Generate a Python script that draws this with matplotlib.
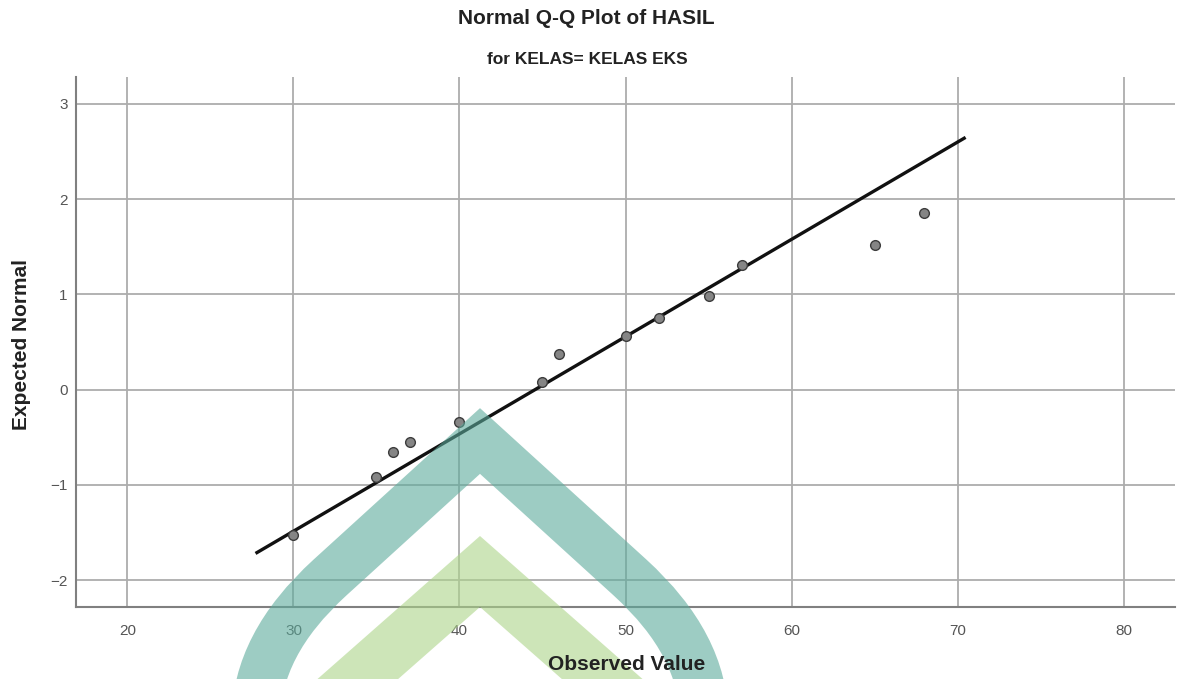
import matplotlib
matplotlib.use("Agg")
import matplotlib.pyplot as plt
import numpy as np
from matplotlib.path import Path
from matplotlib.patches import PathPatch, Polygon

# ---- data ----
observed = [30, 35, 36, 37, 40, 45, 46, 50, 52, 55, 57, 65, 68]
expected = [-1.52, -0.92, -0.65, -0.545, -0.335, 0.08, 0.37, 0.565, 0.755, 0.985, 1.31, 1.52, 1.855]
line_mean = 44.55
line_sd = 9.8
line_x = [27.8, 70.4]
xticks = [20, 30, 40, 50, 60, 70, 80]
yticks = [-2, -1, 0, 1, 2, 3]

title = "Normal Q-Q Plot of HASIL"
subtitle = "for KELAS= KELAS EKS"
xlabel = "Observed Value"
ylabel = "Expected Normal"

plt.rcParams['font.family'] = ['Liberation Sans', 'DejaVu Sans']

W, H = 1190, 679
fig = plt.figure(figsize=(W / 100, H / 100), dpi=100)
ax = fig.add_axes([76 / W, 1 - 607 / H, (1175 - 76) / W, (607 - 77) / H])

ax.set_xlim(16.9, 83.1)
ax.set_ylim(-2.28, 3.28)
ax.set_xticks(xticks)
ax.set_yticks(yticks)
ax.grid(True, color='#adadad', linewidth=1.3)
ax.set_axisbelow(True)
ax.tick_params(axis='x', length=0, labelsize=11, colors='#555555', pad=12)
ax.tick_params(axis='y', length=0, labelsize=11, colors='#555555', pad=6)
for s in ['top', 'right']:
    ax.spines[s].set_visible(False)
for s in ['left', 'bottom']:
    ax.spines[s].set_color('#808080')
    ax.spines[s].set_linewidth(1.5)

lx = np.array(line_x)
ax.plot(lx, (lx - line_mean) / line_sd, color='#111111', linewidth=2.4, zorder=3)
ax.plot(observed, expected, 'o', markersize=7, markerfacecolor='#858585',
        markeredgecolor='#3c3c3c', markeredgewidth=1.0, zorder=4)

fig.text(627 / W, 1 - 665 / H, xlabel, ha='center', va='center', fontsize=15,
         fontweight='bold', color='#222222', zorder=20)
fig.text(22 / W, 1 - 345 / H, ylabel, ha='center', va='center', rotation=90,
         fontsize=15, fontweight='bold', color='#222222')

fig.text(586 / W, 1 - 18 / H, title, ha='center', va='center', fontsize=15,
         fontweight='bold', color='#222222')
fig.text(587 / W, 1 - 60 / H, subtitle, ha='center', va='center', fontsize=12.5,
         fontweight='bold', color='#222222')

# ---- watermark overlay ----
wax = fig.add_axes([0, 0, 1, 1], zorder=10)
wax.set_xlim(0, W)
wax.set_ylim(H, 0)
wax.axis('off')
wax.patch.set_alpha(0)

teal = (92 / 255, 170 / 255, 155 / 255)
green = (173 / 255, 213 / 255, 137 / 255)

cx, apex_y = 480, 441
slope = 0.91
def leg(sign):
    x1 = cx + sign * 150
    y1 = apex_y + 150 * slope
    xb = cx + sign * 224
    yc = apex_y + 224 * slope
    return (x1, y1), (xb, yc), (xb, 720)

(l1, lc, le) = leg(-1)
(r1, rc, re) = leg(1)
verts = [le, lc, l1, (cx, apex_y), r1, rc, re]
codes = [Path.MOVETO, Path.CURVE3, Path.CURVE3, Path.LINETO, Path.LINETO, Path.CURVE3, Path.CURVE3]
teal_path = Path(verts, codes)
wax.add_patch(PathPatch(teal_path, fill=False, edgecolor=teal, alpha=0.6,
                        linewidth=35, joinstyle='miter', capstyle='butt'))

outer_apex, inner_apex = 536, 607
gs = 0.88
ext = 220
chev = [(cx - ext, outer_apex + ext * gs), (cx, outer_apex), (cx + ext, outer_apex + ext * gs),
        (cx + ext - (inner_apex - outer_apex) / gs, outer_apex + ext * gs), (cx, inner_apex),
        (cx - ext + (inner_apex - outer_apex) / gs, outer_apex + ext * gs)]
wax.add_patch(Polygon(chev, closed=True, facecolor=green, edgecolor='none', alpha=0.6))

fig.savefig("out.png", dpi=100)
